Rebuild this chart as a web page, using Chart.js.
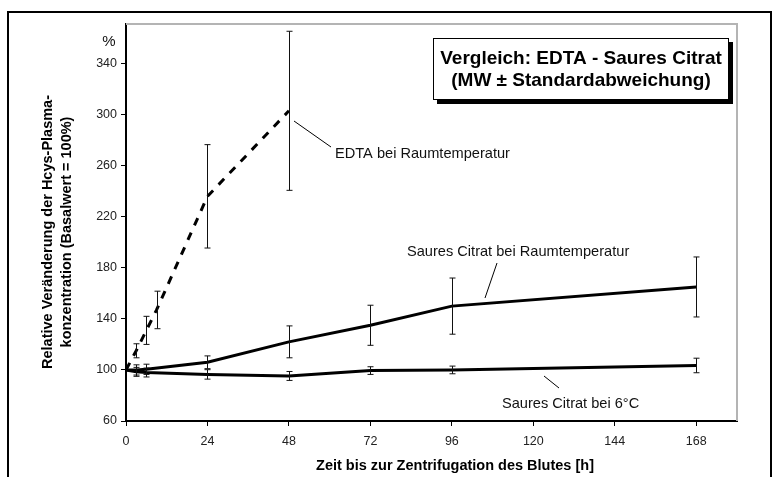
<!DOCTYPE html>
<html>
<head>
<meta charset="utf-8">
<script src="https://cdn.jsdelivr.net/npm/chart.js@4"></script>
<style>
  body { margin: 0; background: #fff; }
  #wrap { width: 775px; height: 477px; }
</style>
</head>
<body>
<div id="wrap"><canvas id="hcysChart" width="775" height="477"></canvas></div>
<script>
// Zeitpunkte [h]
const edtaHours = [0, 3, 6, 9, 24, 48];
const citratHours = [0, 3, 6, 24, 48, 72, 96, 168];

// Mittelwerte [%] und Standardabweichungen
const edtaMean = [100, 115, 131, 147, 236, 303];
const edtaSd = [0, 5.5, 11, 14.7, 40.5, 62.3];
const citratRtMean = [100, 100, 100.5, 106, 122, 135, 150, 165];
const citratRtSd = [0, 4, 4, 5, 12.5, 15.7, 22, 23.5];
const citrat6Mean = [100, 98.5, 98, 96.5, 95.3, 99.5, 100, 103.5];
const citrat6Sd = [0, 3.5, 3.5, 3.7, 3.5, 3, 3, 5.7];

// Achsenbeschriftung
const xTicks = [0, 24, 48, 72, 96, 120, 144, 168];
const yTicks = [60, 100, 140, 180, 220, 260, 300, 340];

const FONT = 'Arial, "Liberation Sans", sans-serif';

function toPoints(xs, ys) {
    return xs.map((v, i) => ({ x: v, y: ys[i] }));
}

const sdList = [edtaSd, citratRtSd, citrat6Sd];

const overlay = {
    id: 'overlay',
    beforeDraw(chart) {
        const ctx = chart.ctx;
        ctx.save();
        ctx.fillStyle = '#fff';
        ctx.fillRect(0, 0, chart.width, chart.height);
        ctx.restore();
    },
    afterDatasetsDraw(chart) {
        const { ctx, scales: { x, y } } = chart;
        ctx.save();
        ctx.strokeStyle = '#111';
        ctx.lineWidth = 1;
        chart.data.datasets.forEach((ds, di) => {
            ds.data.forEach((p, i) => {
                const sd = sdList[di][i];
                if (!sd) return;
                const px = Math.round(x.getPixelForValue(p.x)) + 0.5;
                const top = y.getPixelForValue(p.y + sd);
                const bot = y.getPixelForValue(p.y - sd);
                ctx.beginPath();
                ctx.moveTo(px, top); ctx.lineTo(px, bot);
                ctx.moveTo(px - 3, top); ctx.lineTo(px + 3, top);
                ctx.moveTo(px - 3, bot); ctx.lineTo(px + 3, bot);
                ctx.stroke();
            });
        });
        ctx.restore();
    },
    afterDraw(chart) {
        const { ctx, chartArea: a } = chart;
        ctx.save();

        // graue Rahmenlinien oben / rechts
        ctx.strokeStyle = '#b4b4b4';
        ctx.lineWidth = 2;
        ctx.beginPath();
        ctx.moveTo(a.left, a.top);
        ctx.lineTo(a.right, a.top);
        ctx.lineTo(a.right, a.bottom);
        ctx.stroke();

        // äußerer Rahmen
        ctx.strokeStyle = '#000';
        ctx.lineWidth = 2;
        ctx.strokeRect(8, 12, 763, 480);

        // Titelkasten mit Schatten
        ctx.fillStyle = '#000';
        ctx.fillRect(437, 42, 296, 62);
        ctx.fillStyle = '#fff';
        ctx.fillRect(433, 38, 296, 62);
        ctx.strokeStyle = '#000';
        ctx.lineWidth = 1;
        ctx.strokeRect(433.5, 38.5, 295, 61);
        ctx.fillStyle = '#000';
        ctx.font = 'bold 19px ' + FONT;
        ctx.textAlign = 'center';
        ctx.textBaseline = 'middle';
        ctx.fillText('Vergleich: EDTA - Saures Citrat', 581, 59);
        ctx.fillText('(MW \u00b1 Standardabweichung)', 581, 81);

        // Einheit
        ctx.font = '15px ' + FONT;
        ctx.fillStyle = '#111';
        ctx.fillText('%', 109, 42);

        // Achsentitel
        ctx.fillStyle = '#000';
        ctx.font = 'bold 14.5px ' + FONT;
        ctx.fillText('Zeit bis zur Zentrifugation des Blutes [h]', 455, 466);
        ctx.save();
        ctx.translate(48, 232);
        ctx.rotate(-Math.PI / 2);
        ctx.font = 'bold 14.5px ' + FONT;
        ctx.fillText('Relative Ver\u00e4nderung der Hcys-Plasma-', 0, 0);
        ctx.fillText('konzentration (Basalwert = 100%)', 0, 19);
        ctx.restore();

        // Beschriftungen mit Hinweislinien
        ctx.strokeStyle = '#000';
        ctx.lineWidth = 1;
        ctx.beginPath();
        ctx.moveTo(294, 121); ctx.lineTo(331, 147);
        ctx.moveTo(497, 263); ctx.lineTo(485, 298);
        ctx.moveTo(544, 376); ctx.lineTo(559, 388);
        ctx.stroke();
        ctx.font = '14.6px ' + FONT;
        ctx.fillStyle = '#111';
        ctx.textAlign = 'left';
        ctx.fillText('EDTA bei Raumtemperatur', 335, 154);
        ctx.fillText('Saures Citrat bei Raumtemperatur', 407, 252);
        ctx.fillText('Saures Citrat bei 6\u00b0C', 502, 404);

        ctx.restore();
    }
};

const ctx = document.getElementById('hcysChart').getContext('2d');
new Chart(ctx, {
    type: 'line',
    data: {
        datasets: [{
            label: 'EDTA bei Raumtemperatur',
            data: toPoints(edtaHours, edtaMean),
            borderColor: '#000',
            borderWidth: 3,
            borderDash: [8, 8],
            pointRadius: 0,
            fill: false,
            tension: 0
        }, {
            label: 'Saures Citrat bei Raumtemperatur',
            data: toPoints(citratHours, citratRtMean),
            borderColor: '#000',
            borderWidth: 3,
            pointRadius: 0,
            fill: false,
            tension: 0
        }, {
            label: 'Saures Citrat bei 6°C',
            data: toPoints(citratHours, citrat6Mean),
            borderColor: '#000',
            borderWidth: 3,
            pointRadius: 0,
            fill: false,
            tension: 0
        }]
    },
    options: {
        responsive: false,
        animation: false,
        layout: { padding: { left: 0, top: 24, right: 38, bottom: 0 } },
        plugins: {
            legend: { display: false },
            tooltip: { enabled: false }
        },
        scales: {
            x: {
                type: 'linear',
                min: 0,
                max: 180,
                afterBuildTicks: (s) => { s.ticks = xTicks.map(v => ({ value: v })); },
                afterFit: (s) => { s.height = 56; },
                grid: { drawOnChartArea: false, color: '#000', tickLength: 5 },
                border: { color: '#000', width: 2 },
                ticks: { color: '#222', font: { family: FONT, size: 12.5 }, padding: 8, maxRotation: 0 }
            },
            y: {
                type: 'linear',
                min: 60,
                max: 371,
                afterBuildTicks: (s) => { s.ticks = yTicks.map(v => ({ value: v })); },
                afterFit: (s) => { s.width = 126; },
                grid: { drawOnChartArea: false, color: '#000', tickLength: 5 },
                border: { color: '#000', width: 2 },
                ticks: { color: '#222', font: { family: FONT, size: 12.5 }, padding: 4 }
            }
        }
    },
    plugins: [overlay]
});
</script>
</body>
</html>
